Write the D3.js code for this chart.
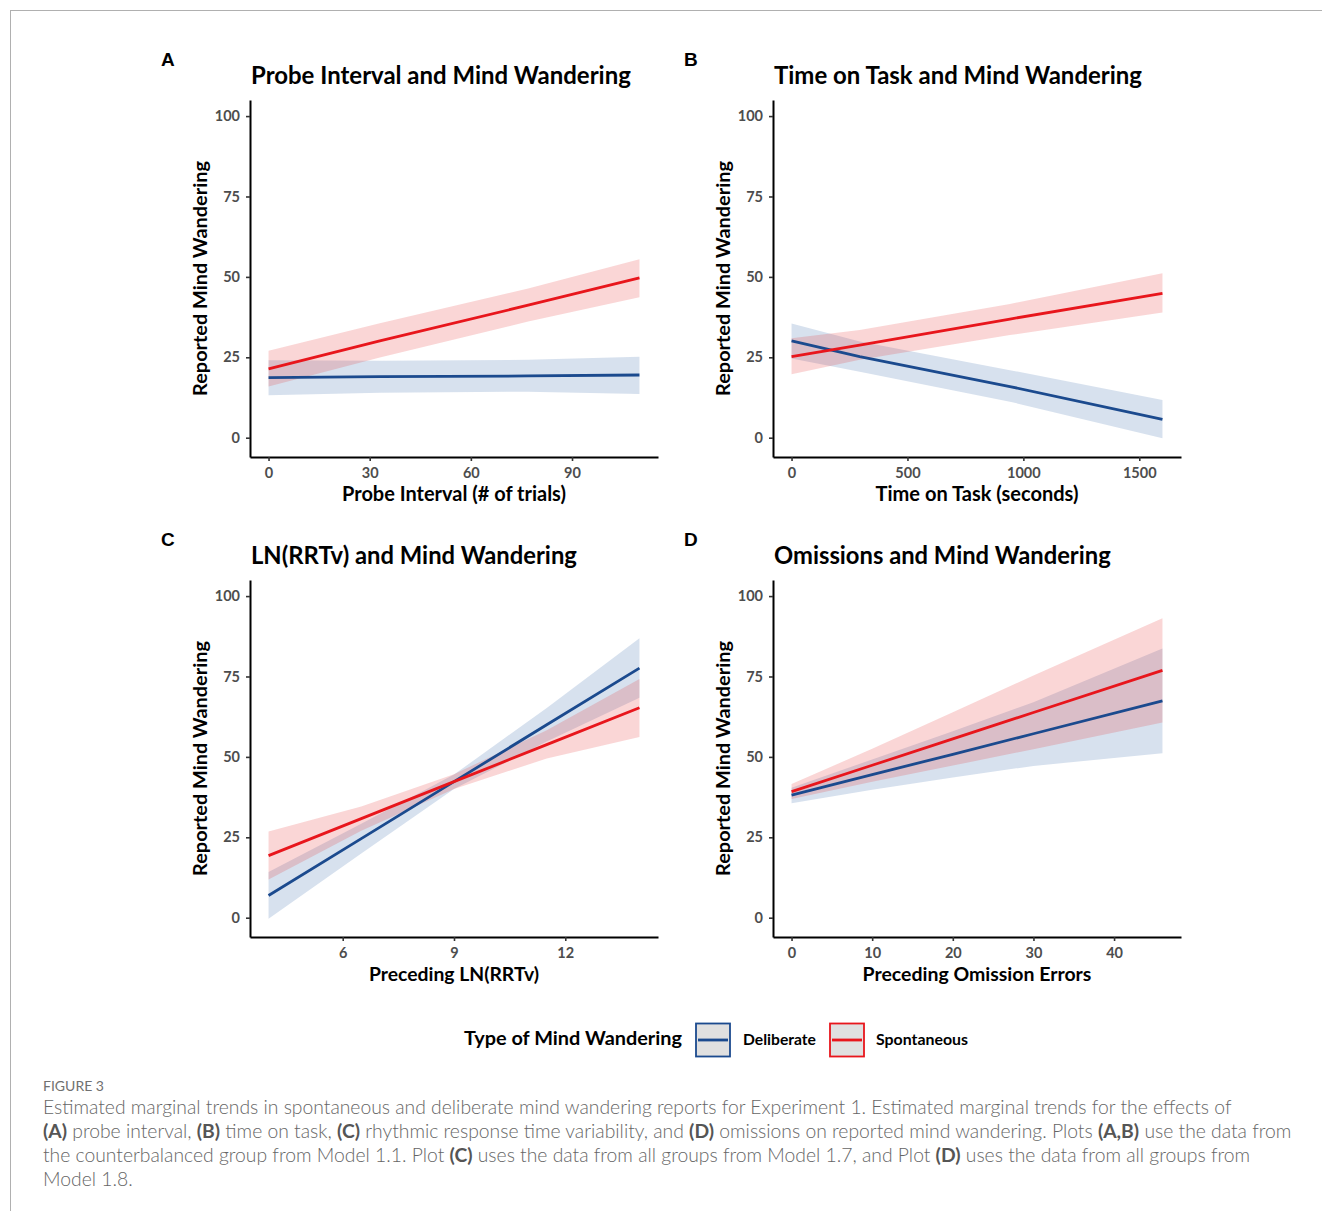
<!DOCTYPE html>
<html><head><meta charset="utf-8">
<script src="https://cdn.jsdelivr.net/npm/d3@7"></script>
<style>body{margin:0;background:#fff}svg{display:block}</style></head>
<body>
<svg id="c" width="1322" height="1211"></svg>
<script>
// ---------- DATA ----------
const yTicks = [0, 25, 50, 75, 100];
const seriesNames = ["Deliberate", "Spontaneous"];

// Panel A: Probe interval
const aX = [0, 33, 77, 110];
const aDelMean = [18.7, 19.0, 19.2, 19.5];
const aDelLo   = [13.2, 14.0, 14.3, 13.6];
const aDelHi   = [24.1, 23.9, 24.2, 25.2];
const aSpoMean = [21.4, 30.1, 41.2, 49.7];
const aSpoLo   = [15.9, 24.9, 36.1, 43.7];
const aSpoHi   = [27.0, 35.6, 46.4, 55.5];
const aTicks = [0, 30, 60, 90];

// Panel B: Time on task
const bX = [0, 294, 942, 1600];
const bDelMean = [30.1, 25.2, 15.9, 5.7];
const bDelLo   = [24.6, 20.5, 11.2, -0.2];
const bDelHi   = [35.5, 29.9, 21.0, 11.7];
const bSpoMean = [25.2, 28.8, 36.9, 44.9];
const bSpoLo   = [19.7, 24.2, 31.9, 38.9];
const bSpoHi   = [30.9, 33.5, 41.6, 51.1];
const bTicks = [0, 500, 1000, 1500];

// Panel C: LN(RRTv)
const cX = [4, 6.5, 9, 11.5, 14];
const cDelMean = [6.9, 24.6, 42.3, 60.0, 77.6];
const cDelLo   = [-0.3, 20.0, 40.0, 54.8, 68.4];
const cDelHi   = [14.2, 29.2, 44.5, 65.2, 86.9];
const cSpoMean = [19.3, 30.8, 42.3, 53.8, 65.3];
const cSpoLo   = [11.9, 27.0, 40.0, 49.5, 56.2];
const cSpoHi   = [26.8, 34.6, 44.6, 58.3, 74.2];
const cTicks = [6, 9, 12];

// Panel D: Omissions
const dX = [0, 10, 20, 30, 46];
const dDelMean = [38.1, 44.5, 50.8, 57.2, 67.4];
const dDelLo   = [35.6, 39.8, 43.6, 47.2, 51.1];
const dDelHi   = [40.4, 49.2, 58.0, 67.0, 83.7];
const dSpoMean = [39.2, 47.4, 55.6, 63.8, 76.9];
const dSpoLo   = [36.9, 42.3, 47.3, 52.4, 60.7];
const dSpoHi   = [41.6, 52.5, 63.9, 75.3, 93.1];
const dTicks = [0, 10, 20, 30, 40];

const panelLetters = ["A", "B", "C", "D"];
const panelTitles = ["Probe Interval and Mind Wandering", "Time on Task and Mind Wandering",
                     "LN(RRTv) and Mind Wandering", "Omissions and Mind Wandering"];
const xTitles = ["Probe Interval (# of trials)", "Time on Task (seconds)",
                 "Preceding LN(RRTv)", "Preceding Omission Errors"];
const yTitle = "Reported Mind Wandering";
const legendTitle = "Type of Mind Wandering";

// ---------- LAYOUT / STYLE ----------
const FONT = "Lato, 'Open Sans', sans-serif";
const colors = { Deliberate: "#1b4a8e", Spontaneous: "#e8161c" };
const bandFill = { Deliberate: "#356aa8", Spontaneous: "#e63232" };
const PW = 408, PH = 357;
const lefts = [250, 773, 250, 773], tops = [100, 100, 580, 580];
const xDomains = [[-5.5, 115.5], [-80, 1680], [3.5, 14.5], [-2.3, 48.3]];
const yDomain = [-6, 105];
const titleW = [380, 368, 326, 337];
const xTitleW = [224, 203, 170, 229];

const svg = d3.select("#c");
function fit(sel, w) {
  const n = sel.node();
  const cur = n.getComputedTextLength();
  const fs = parseFloat(sel.attr("font-size"));
  if (cur > 0) sel.attr("font-size", (fs * w / cur).toFixed(2));
  return sel;
}

// frame lines
svg.append("line").attr("x1", 10).attr("x2", 1322).attr("y1", 10.5).attr("y2", 10.5).attr("stroke", "#b0b0b0").attr("stroke-width", 1);
svg.append("line").attr("x1", 10.5).attr("x2", 10.5).attr("y1", 10).attr("y2", 1211).attr("stroke", "#b0b0b0").attr("stroke-width", 1);

const panelsData = [
  { xs: aX, ticks: aTicks, s: { Deliberate: [aDelMean, aDelLo, aDelHi], Spontaneous: [aSpoMean, aSpoLo, aSpoHi] } },
  { xs: bX, ticks: bTicks, s: { Deliberate: [bDelMean, bDelLo, bDelHi], Spontaneous: [bSpoMean, bSpoLo, bSpoHi] } },
  { xs: cX, ticks: cTicks, s: { Deliberate: [cDelMean, cDelLo, cDelHi], Spontaneous: [cSpoMean, cSpoLo, cSpoHi] } },
  { xs: dX, ticks: dTicks, s: { Deliberate: [dDelMean, dDelLo, dDelHi], Spontaneous: [dSpoMean, dSpoLo, dSpoHi] } },
];

panelsData.forEach((p, i) => {
  const L = lefts[i], T = tops[i];
  const x = d3.scaleLinear().domain(xDomains[i]).range([L, L + PW]);
  const y = d3.scaleLinear().domain(yDomain).range([T + PH, T]);
  const g = svg.append("g");

  seriesNames.forEach(name => {
    const [m, lo, hi] = p.s[name];
    const pts = p.xs.map((xv, k) => ({ x: xv, m: m[k], lo: lo[k], hi: hi[k] }));
    g.append("path").datum(pts)
      .attr("d", d3.area().x(d => x(d.x)).y0(d => y(d.lo)).y1(d => y(d.hi)))
      .attr("fill", bandFill[name]).attr("fill-opacity", 0.2).attr("stroke", "none");
  });
  seriesNames.forEach(name => {
    const [m] = p.s[name];
    const pts = p.xs.map((xv, k) => ({ x: xv, m: m[k] }));
    g.append("path").datum(pts)
      .attr("d", d3.line().x(d => x(d.x)).y(d => y(d.m)))
      .attr("fill", "none").attr("stroke", colors[name]).attr("stroke-width", 2.8);
  });

  const ya = svg.append("g").attr("transform", `translate(${L},0)`)
    .call(d3.axisLeft(y).tickValues(yTicks).tickSize(4).tickSizeOuter(0).tickPadding(6));
  const xa = svg.append("g").attr("transform", `translate(0,${T + PH})`)
    .call(d3.axisBottom(x).tickValues(p.ticks).tickSize(4).tickSizeOuter(0).tickPadding(7).tickFormat(d3.format("d")));
  [ya, xa].forEach(a => {
    a.select(".domain").attr("stroke", "#000").attr("stroke-width", 2);
    a.selectAll(".tick line").attr("stroke", "#333").attr("stroke-width", 1.6);
    a.selectAll(".tick text").attr("font-family", FONT).attr("font-weight", 700)
      .attr("font-size", 14.5).attr("fill", "#4d4d4d");
  });

  const t = svg.append("text").attr("x", L + 1).attr("y", T - 16)
    .attr("font-family", FONT).attr("font-weight", 700).attr("font-size", 22).attr("fill", "#000")
    .text(panelTitles[i]);
  fit(t, titleW[i]);

  svg.append("text").attr("x", L - 89).attr("y", T - 34)
    .attr("font-family", "'Liberation Sans', Arial, sans-serif").attr("font-weight", 700)
    .attr("font-size", 19).attr("fill", "#000").text(panelLetters[i]);

  const yt = svg.append("text")
    .attr("transform", `translate(${L - 43},${T + PH / 2}) rotate(-90)`)
    .attr("text-anchor", "middle")
    .attr("font-family", FONT).attr("font-weight", 700).attr("font-size", 19).attr("fill", "#000")
    .text(yTitle);
  fit(yt, 235);

  const xt = svg.append("text").attr("x", L + PW / 2).attr("y", T + PH + 44)
    .attr("text-anchor", "middle")
    .attr("font-family", FONT).attr("font-weight", 700).attr("font-size", 19).attr("fill", "#000")
    .text(xTitles[i]);
  fit(xt, xTitleW[i]);
});

// ---------- LEGEND ----------
const lt = svg.append("text").attr("x", 464).attr("y", 1045)
  .attr("font-family", FONT).attr("font-weight", 700).attr("font-size", 19).attr("fill", "#000")
  .text(legendTitle);
fit(lt, 218);
const keyX = [696, 830], labX = [743, 876], labW = [73, 92];
seriesNames.forEach((name, k) => {
  svg.append("rect").attr("x", keyX[k]).attr("y", 1023.5).attr("width", 34).attr("height", 33)
    .attr("fill", "#e0e0e0").attr("stroke", colors[name]).attr("stroke-width", 1.8);
  svg.append("line").attr("x1", keyX[k] + 2).attr("x2", keyX[k] + 32).attr("y1", 1040).attr("y2", 1040)
    .attr("stroke", colors[name]).attr("stroke-width", 2.8);
  const tx = svg.append("text").attr("x", labX[k]).attr("y", 1044.5)
    .attr("font-family", FONT).attr("font-weight", 700).attr("font-size", 15).attr("fill", "#000")
    .text(name);
  fit(tx, labW[k]);
});

// ---------- CAPTION ----------
const capLabel = "FIGURE 3";
const capLines = [
  [["Estimated marginal trends in spontaneous and deliberate mind wandering reports for Experiment 1. Estimated marginal trends for the effects of", 0]],
  [["(A)", 1], [" probe interval, ", 0], ["(B)", 1], [" time on task, ", 0], ["(C)", 1], [" rhythmic response time variability, and ", 0], ["(D)", 1], [" omissions on reported mind wandering. Plots ", 0], ["(A,B)", 1], [" use the data from", 0]],
  [["the counterbalanced group from Model 1.1. Plot ", 0], ["(C)", 1], [" uses the data from all groups from Model 1.7, and Plot ", 0], ["(D)", 1], [" uses the data from all groups from", 0]],
  [["Model 1.8.", 0]]
];
const capW = [1189, 1249, 1203, 85];
const fl = svg.append("text").attr("x", 43).attr("y", 1091)
  .attr("font-family", FONT).attr("font-weight", 400).attr("font-size", 13).attr("fill", "#707070")
  .text(capLabel);
fit(fl, 61);
let capSize = null;
capLines.forEach((segs, i) => {
  const t = svg.append("text").attr("x", 43).attr("y", 1114 + i * 24)
    .attr("font-family", FONT).attr("font-size", 17).attr("fill", "#666").attr("font-weight", 300);
  segs.forEach(([s, b]) => {
    t.append("tspan").text(s).attr("font-weight", b ? 700 : 300).attr("fill", b ? "#555" : "#666");
  });
  if (i === 0) { fit(t, capW[0]); capSize = t.attr("font-size"); }
  else t.attr("font-size", capSize);
});
</script>
</body></html>
